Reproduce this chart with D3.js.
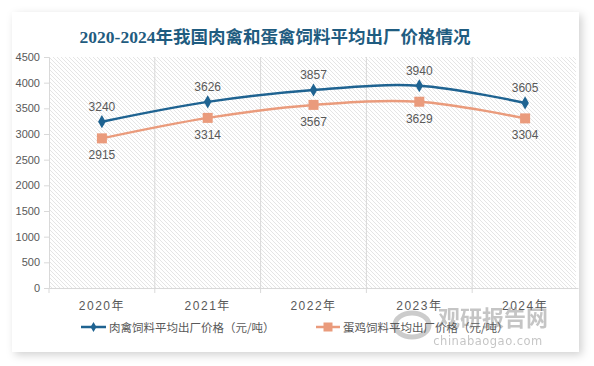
<!DOCTYPE html>
<html><head><meta charset="utf-8">
<script src="https://cdn.jsdelivr.net/npm/d3@7"></script>
<style>body{margin:0;background:#fff;}svg{display:block;}</style>
</head><body>
<script>
const categories = ["2020年","2021年","2022年","2023年","2024年"];
const meatFeed = [3240,3626,3857,3940,3605];
const eggFeed = [2915,3314,3567,3629,3304];
const seriesNames = ["肉禽饲料平均出厂价格（元/吨）","蛋鸡饲料平均出厂价格（元/吨）"];
const yTicks = [0,500,1000,1500,2000,2500,3000,3500,4000,4500];
const title = "2020-2024年我国肉禽和蛋禽饲料平均出厂价格情况";

const W=594,H=366;
const svg=d3.select("body").append("svg").attr("width",W).attr("height",H);
const defs=svg.append("defs");
const f=defs.append("filter").attr("id","sh").attr("x","-10%").attr("y","-10%").attr("width","130%").attr("height","130%");
f.append("feDropShadow").attr("dx",3).attr("dy",3).attr("stdDeviation",4).attr("flood-color","#000").attr("flood-opacity",0.18);
const pat=defs.append("pattern").attr("id","hatch").attr("patternUnits","userSpaceOnUse").attr("width",4).attr("height",4);
pat.append("path").attr("d","M-1,-1 L5,5 M-1,3 L1,5 M3,-1 L5,1").attr("stroke","#dedede").attr("stroke-width",0.8);

svg.append("rect").attr("x",12).attr("y",12).attr("width",567).attr("height",340).attr("fill","#fff").attr("filter","url(#sh)");

const x=d3.scaleBand().domain(categories).range([49,578]);
const y=d3.scaleLinear().domain([0,4500]).range([288,57]);

svg.append("rect").attr("x",49).attr("y",57).attr("width",527).attr("height",231).attr("fill","url(#hatch)");

// vertical gridlines
svg.append("g").selectAll("line").data(categories.slice(1)).join("line")
  .attr("x1",d=>x(d)).attr("x2",d=>x(d)).attr("y1",57).attr("y2",288)
  .attr("stroke","#d9d9d9").attr("stroke-width",1);

// y axis
const ya=svg.append("g").attr("transform","translate(49,0)").call(d3.axisLeft(y).tickValues(yTicks).tickFormat(d3.format("d")).tickSize(5).tickPadding(4));
ya.select(".domain").attr("stroke","#d9d9d9");
ya.selectAll(".tick line").attr("stroke","#d9d9d9");
ya.selectAll("text").attr("font-family","Liberation Sans, Arial, sans-serif").attr("font-size",11).attr("fill","#595959");

// x axis
const xa=svg.append("g").attr("transform","translate(0,288)").call(d3.axisBottom(x).tickSize(0).tickPadding(13));
xa.select(".domain").attr("stroke","#d9d9d9");
xa.selectAll("text").attr("font-family","Liberation Sans, Noto Sans CJK SC, sans-serif").attr("font-size",12).attr("fill","#595959").attr("letter-spacing","1.5px");
svg.append("g").selectAll("line").data(categories).join("line")
  .attr("x1",d=>x(d)).attr("x2",d=>x(d))
  .attr("y1",288).attr("y2",293).attr("stroke","#d9d9d9");

const cx=d=>x(d)+x.bandwidth()/2;
const line=d3.line().curve(d3.curveCatmullRom.alpha(0.5));
const blue="#1F6391", orange="#EA9B7C";

function drawSeries(vals,color,marker,labelAbove){
  const pts=vals.map((v,i)=>[cx(categories[i]),y(v)]);
  svg.append("path").attr("d",line(pts)).attr("fill","none").attr("stroke",color).attr("stroke-width",2.5);
  const g=svg.append("g");
  pts.forEach((p,i)=>{
    if(marker==="diamond"){
      g.append("path").attr("d",d3.symbol(d3.symbolDiamond,50)()).attr("transform",`translate(${p[0]},${p[1]})`).attr("fill",color);
    } else {
      g.append("rect").attr("x",p[0]-5).attr("y",p[1]-5).attr("width",10).attr("height",10).attr("fill",color);
    }
    svg.append("text").attr("x",p[0]).attr("y",labelAbove?p[1]-11:p[1]+21)
      .attr("text-anchor","middle").attr("font-family","Liberation Sans, Arial, sans-serif").attr("font-size",12).attr("fill","#595959").text(vals[i]);
  });
}
drawSeries(meatFeed,blue,"diamond",true);
drawSeries(eggFeed,orange,"square",false);

// title
svg.append("text").attr("x",275).attr("y",43).attr("text-anchor","middle")
  .attr("font-family","Liberation Serif, Noto Sans CJK SC, serif").attr("font-weight","bold").attr("font-size",17.5).attr("fill","#1F5C80").text(title);

// watermark
const wm=svg.append("g").attr("opacity",0.5);
wm.append("ellipse").attr("cx",412).attr("cy",325).attr("rx",17).attr("ry",12).attr("fill","none").attr("stroke","#9a9a9a").attr("stroke-width",5);
wm.append("text").attr("x",493).attr("y",326).attr("text-anchor","middle").attr("font-family","Noto Sans CJK SC, sans-serif").attr("font-weight","bold").attr("font-size",22).attr("fill","#8c8c8c").text("观研报告网");
wm.append("text").attr("x",488).attr("y",345).attr("text-anchor","middle").attr("font-family","DejaVu Sans, sans-serif").attr("font-size",11.5).attr("fill","#8c8c8c").attr("letter-spacing","0.5px").text("chinabaogao.com");

// legend
const lg=svg.append("g");
lg.append("line").attr("x1",81).attr("x2",106).attr("y1",327).attr("y2",327).attr("stroke",blue).attr("stroke-width",2.5);
lg.append("path").attr("d",d3.symbol(d3.symbolDiamond,30)()).attr("transform","translate(93.5,327)").attr("fill",blue);
lg.append("text").attr("x",109).attr("y",331.5).attr("font-family","Noto Sans CJK SC, sans-serif").attr("font-size",11.5).attr("fill","#595959").text(seriesNames[0]);
lg.append("line").attr("x1",316).attr("x2",340).attr("y1",327).attr("y2",327).attr("stroke",orange).attr("stroke-width",2.5);
lg.append("rect").attr("x",323.5).attr("y",322.5).attr("width",9).attr("height",9).attr("fill",orange);
lg.append("text").attr("x",343).attr("y",331.5).attr("font-family","Noto Sans CJK SC, sans-serif").attr("font-size",11.5).attr("fill","#595959").text(seriesNames[1]);
</script>
</body></html>
